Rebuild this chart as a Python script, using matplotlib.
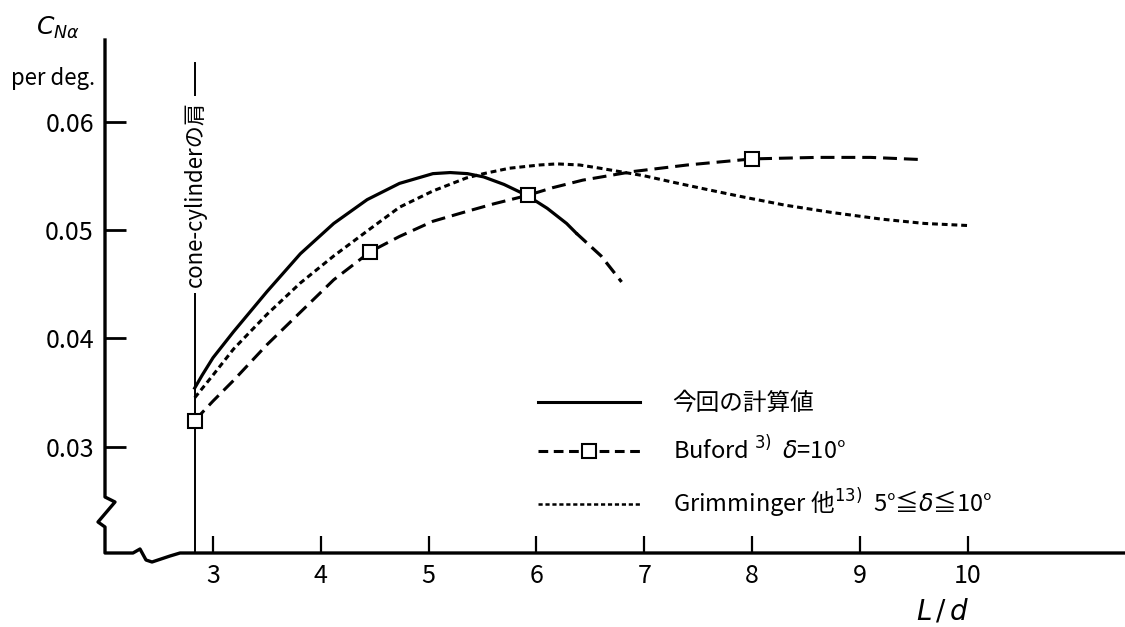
import matplotlib
matplotlib.use("Agg")
import matplotlib.pyplot as plt
from matplotlib.lines import Line2D

plt.rcParams['font.family'] = ['Noto Sans CJK JP', 'DejaVu Sans']
plt.rcParams['lines.scale_dashes'] = False

# --- data ---
calc_x = [2.83, 2.9, 3.0, 3.19, 3.5, 3.81, 4.12, 4.43, 4.73, 5.04, 5.2, 5.36, 5.51, 5.7, 5.91,
          6.1, 6.28, 6.37, 6.6, 6.79]
calc_y = [0.0354, 0.0366, 0.0382, 0.0406, 0.0443, 0.0478, 0.0506, 0.0528, 0.0543, 0.0552, 0.0553,
          0.0552, 0.0549, 0.0542, 0.0532, 0.0520, 0.0506, 0.0497, 0.0476, 0.0452]
calc_solid_end = 6.37   # calculated curve turns dashed beyond this L/d

buf_x = [2.83, 3.0, 3.19, 3.5, 3.81, 4.12, 4.46, 4.73, 5.04, 5.35, 5.6, 5.92, 6.15, 6.43, 6.9,
         7.4, 8.0, 8.6, 9.1, 9.57]
buf_y = [0.0324, 0.0342, 0.0361, 0.0394, 0.0424, 0.0454, 0.0480, 0.0494, 0.0508, 0.0517, 0.0524,
         0.0532, 0.0539, 0.0546, 0.0554, 0.0560, 0.05656, 0.0567, 0.0567, 0.0565]
buf_marks = [2.83, 4.46, 5.92, 8.0]

grim_x = [2.83, 3.0, 3.19, 3.5, 3.81, 4.12, 4.43, 4.73, 5.04, 5.35, 5.51, 5.75, 6.03, 6.19, 6.4,
          6.59, 7.0, 7.27, 7.6, 7.89, 8.3, 8.75, 9.2, 9.6, 10.02]
grim_y = [0.0345, 0.0366, 0.0390, 0.0422, 0.0451, 0.0476, 0.0499, 0.0521, 0.0536, 0.0548, 0.0552,
          0.0557, 0.0560, 0.0561, 0.0560, 0.0557, 0.0550, 0.0544, 0.0537, 0.0531, 0.0523, 0.0516,
          0.0510, 0.0506, 0.0504]

shoulder_x = 2.833
x_ticks = [3, 4, 5, 6, 7, 8, 9, 10]
y_ticks = [0.03, 0.04, 0.05, 0.06]
y_ticklabels = ['0.03', '0.04', '0.05', '0.06']

labels = ['今回の計算値',
          'Buford $^{3)}$  $\\delta$=10°',
          'Grimminger 他$^{13)}$  5°≦$\\delta$≦10°']

W, H = 1125, 627
fig = plt.figure(figsize=(W / 100, H / 100), dpi=100)
ax = fig.add_axes([105 / W, 1 - 553 / H, 1020 / W, 513 / H])
ax.set_xlim(1.998, 11.46)
ax.set_ylim(0.02017, 0.06754)

dash_long = (0, (10, 5))
dash_short = (0, (4.2, 2.8))

# calculated (solid, then dashed continuation)
sx = [x for x in calc_x if x <= calc_solid_end]
sy = calc_y[:len(sx)]
dx = calc_x[len(sx) - 1:]
dy = calc_y[len(sx) - 1:]
ax.plot(sx, sy, color='black', lw=2.3, solid_joinstyle='round')
ax.plot(dx, dy, color='black', lw=2.3, linestyle=dash_long)

# Grimminger
ax.plot(grim_x, grim_y, color='black', lw=2.2, linestyle=dash_short)

# Buford
mk = [buf_x.index(v) for v in buf_marks]
ax.plot(buf_x, buf_y, color='black', lw=2.2, linestyle=dash_long,
        marker='s', markevery=mk, markersize=9.5, markerfacecolor='white',
        markeredgecolor='black', markeredgewidth=1.5)

# cone-cylinder shoulder line
ax.plot([shoulder_x, shoulder_x], [0.02017, 0.0654], color='black', lw=1.4, zorder=1)
ax.text(shoulder_x, 0.0533, 'cone-cylinderの肩', rotation=90, ha='center', va='center',
        fontsize=16, bbox=dict(facecolor='white', edgecolor='none', pad=4), zorder=2)

# axes styling
for s in ax.spines.values():
    s.set_visible(False)
ax.set_xticks(x_ticks)
ax.set_xticklabels([str(t) for t in x_ticks])
ax.set_yticks(y_ticks)
ax.set_yticklabels(y_ticklabels)
ax.tick_params(axis='y', direction='in', length=15, width=2, labelsize=18, pad=8)
ax.tick_params(axis='x', direction='in', length=12, width=1.6, labelsize=18, pad=7)


def px(p):
    return p[0] / W, 1 - p[1] / H


axis_outline = [(105, 40), (105, 497), (115, 502), (98, 522), (105, 527), (105, 553),
                (133, 553), (140, 549), (146, 560), (152, 562), (170, 556), (180, 553), (1125, 553)]
xs, ys = zip(*[px(p) for p in axis_outline])
fig.add_artist(Line2D(xs, ys, transform=fig.transFigure, color='black', lw=2.4,
                      solid_joinstyle='round'))

# axis labels
fig.text(58 / W, 1 - 28 / H, '$C_{N\\alpha}$', ha='center', va='center', fontsize=18)
fig.text(95 / W, 1 - 78 / H, 'per deg.', ha='right', va='center', fontsize=16)
fig.text(943 / W, 1 - 612 / H, '$L\\,/\\,d$', ha='center', va='center', fontsize=20)

# legend
handles = [
    Line2D([], [], color='black', lw=2.2),
    Line2D([], [], color='black', lw=2.2, linestyle=(0, (7, 4)), marker='s', markersize=9.5,
           markerfacecolor='white', markeredgecolor='black', markeredgewidth=1.5),
    Line2D([], [], color='black', lw=1.8, linestyle=(0, (3, 2))),
]
fig.legend(handles, labels, loc='upper left', bbox_to_anchor=(538 / W, 1 - 392 / H),
           bbox_transform=fig.transFigure, frameon=False, fontsize=17, borderpad=0,
           borderaxespad=0, handlelength=4.3, handletextpad=1.4, labelspacing=0.9, numpoints=1)

fig.savefig('out.png', dpi=100)
